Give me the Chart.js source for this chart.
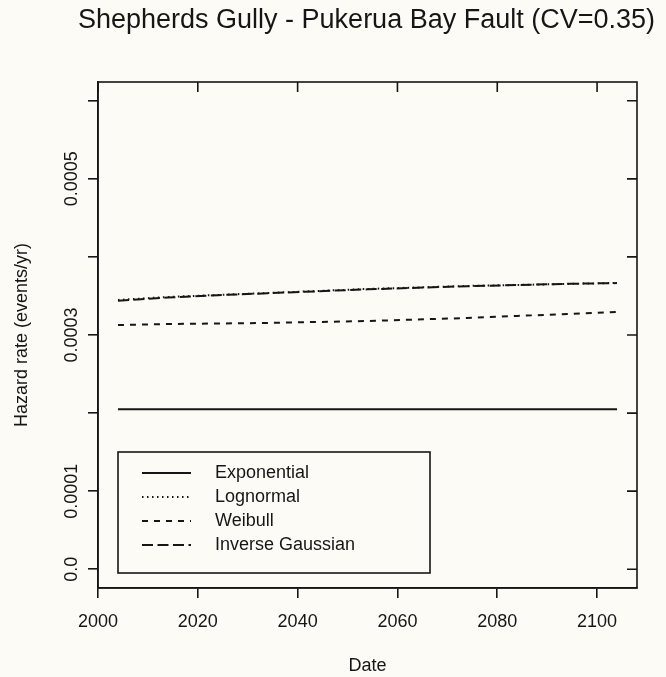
<!DOCTYPE html>
<html><head><meta charset="utf-8">
<script src="https://cdn.jsdelivr.net/npm/chart.js@4/dist/chart.umd.min.js"></script>
<style>html,body{margin:0;padding:0;background:#fcfbf5;}canvas{display:block}</style>
</head><body>
<canvas id="c" width="666" height="677"></canvas>
<script>
// ---- data ----
const years = [2004, 2014, 2024, 2034, 2044, 2054, 2064, 2074, 2084, 2094, 2104];
const exponential = [0.000205, 0.000205, 0.000205, 0.000205, 0.000205, 0.000205, 0.000205, 0.000205, 0.000205, 0.000205, 0.000205];
const lognormal = [0.0003449, 0.0003487, 0.0003513, 0.0003538, 0.0003564, 0.0003590, 0.0003609, 0.0003628, 0.0003641, 0.0003654, 0.0003667];
const weibull = [0.0003128, 0.0003141, 0.0003147, 0.0003154, 0.0003167, 0.0003179, 0.0003199, 0.0003218, 0.0003244, 0.0003269, 0.0003295];
const inverseGaussian = [0.0003440, 0.0003480, 0.0003510, 0.0003535, 0.0003560, 0.0003585, 0.0003605, 0.0003625, 0.0003640, 0.0003655, 0.0003665];
const seriesNames = ['Exponential', 'Lognormal', 'Weibull', 'Inverse Gaussian'];
const xTicks = [2000, 2020, 2040, 2060, 2080, 2100];
const yTicks = [0, 0.0001, 0.0002, 0.0003, 0.0004, 0.0005, 0.0006];
const yTickLabels = ['0.0', '0.0001', '', '0.0003', '', '0.0005', ''];
const titleText = 'Shepherds Gully - Pukerua Bay Fault (CV=0.35)';
const xTitle = 'Date';
const yTitle = 'Hazard rate (events/yr)';

const INK = '#161616';
const BG = '#fcfbf5';
const FONT = "'Liberation Sans', Arial, Helvetica, sans-serif";
Chart.defaults.font.family = FONT;
Chart.defaults.color = INK;

const toXY = arr => arr.map((v, i) => ({x: years[i], y: v}));
const styles = [
  {dash: [], width: 2},
  {dash: [1.5, 3.5], width: 2},
  {dash: [6, 6], width: 2},
  {dash: [11, 4.5], width: 2}
];
const values = [exponential, lognormal, weibull, inverseGaussian];

const frame = {
  id: 'frame',
  beforeDraw(chart) {
    const ctx = chart.ctx;
    ctx.save();
    ctx.fillStyle = BG;
    ctx.fillRect(0, 0, chart.width, chart.height);
    ctx.restore();
  },
  afterDraw(chart) {
    const ctx = chart.ctx;
    const a = chart.chartArea;
    ctx.save();
    ctx.fillStyle = INK;
    ctx.font = '27px ' + FONT;
    ctx.textAlign = 'center';
    ctx.textBaseline = 'alphabetic';
    ctx.fillText(titleText, (a.left + a.right) / 2 - 1, 28);
    ctx.restore();
  },
  afterDatasetsDraw(chart) {
    const ctx = chart.ctx;
    const a = chart.chartArea;
    const xs = chart.scales.x, ys = chart.scales.y;
    ctx.save();
    ctx.strokeStyle = INK;
    ctx.lineWidth = 1.6;
    // box
    ctx.strokeRect(a.left, a.top, a.right - a.left, a.bottom - a.top);
    // inward ticks on top and right
    ctx.beginPath();
    xTicks.forEach(v => { const p = xs.getPixelForValue(v); ctx.moveTo(p, a.top); ctx.lineTo(p, a.top + 10); });
    yTicks.forEach(v => { const p = ys.getPixelForValue(v); ctx.moveTo(a.right, p); ctx.lineTo(a.right - 10, p); });
    ctx.stroke();
    // legend
    const L = {x: 118, y: 452, w: 312, h: 121};
    ctx.lineWidth = 1.6;
    ctx.strokeRect(L.x, L.y, L.w, L.h);
    const rowY0 = 473, rowStep = 24;
    ctx.font = '18px ' + FONT;
    ctx.textBaseline = 'middle';
    ctx.textAlign = 'left';
    chart.data.datasets.forEach((ds, i) => {
      const y = rowY0 + i * rowStep;
      ctx.beginPath();
      ctx.setLineDash(ds.borderDash || []);
      ctx.lineWidth = ds.borderWidth;
      ctx.moveTo(142, y); ctx.lineTo(191, y);
      ctx.stroke();
      ctx.setLineDash([]);
      ctx.fillStyle = INK;
      ctx.fillText(ds.label, 215, y);
    });
    ctx.restore();
  }
};

new Chart(document.getElementById('c'), {
  type: 'line',
  data: {
    datasets: values.map((arr, i) => ({
      label: seriesNames[i],
      data: toXY(arr),
      borderColor: INK,
      borderWidth: styles[i].width,
      borderDash: styles[i].dash,
      pointRadius: 0,
      tension: 0,
      fill: false
    }))
  },
  options: {
    responsive: false,
    animation: false,
    devicePixelRatio: 1,
    layout: {padding: {left: 0, right: 29, top: 82, bottom: 0}},
    plugins: {
      legend: {display: false},
      tooltip: {enabled: false},
      title: {display: false}
    },
    scales: {
      x: {
        type: 'linear',
        position: 'bottom',
        min: 2000,
        max: 2108,
        afterBuildTicks: s => { s.ticks = xTicks.map(v => ({value: v})); },
        afterFit: s => { s.height = 89; },
        ticks: {
          font: {size: 18},
          color: INK,
          padding: 13,
          maxRotation: 0,
          callback: v => String(v)
        },
        grid: {drawOnChartArea: false, drawTicks: true, tickLength: 10, color: INK, lineWidth: 1.6},
        border: {display: true, color: INK, width: 1.6},
        title: {display: true, text: xTitle, font: {size: 18}, color: INK, padding: {top: 1, bottom: 0}}
      },
      y: {
        type: 'linear',
        position: 'left',
        min: -0.000024,
        max: 0.000624,
        afterBuildTicks: s => { s.ticks = yTicks.map(v => ({value: v})); },
        afterFit: s => { s.width = 98; },
        ticks: {
          font: {size: 18},
          color: INK,
          minRotation: 90,
          maxRotation: 90,
          crossAlign: 'center',
          padding: -12,
          callback: (v, i) => yTickLabels[i]
        },
        grid: {drawOnChartArea: false, drawTicks: true, tickLength: 10, color: INK, lineWidth: 1.6},
        border: {display: true, color: INK, width: 1.6},
        title: {display: true, text: yTitle, font: {size: 18}, color: INK, padding: {top: 11, bottom: 0}}
      }
    }
  },
  plugins: [frame]
});
</script>
</body></html>
